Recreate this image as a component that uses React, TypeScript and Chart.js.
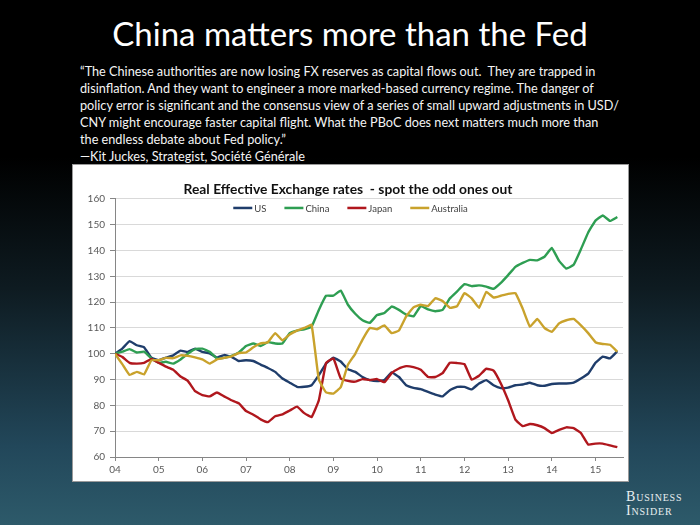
import React, { useEffect, useRef } from 'react';
import { Chart, registerables } from 'chart.js';

Chart.register(...registerables);

// ---------- data (bimonthly samples starting Jan 2004) ----------
const yearLabels = ['04', '05', '06', '07', '08', '09', '10', '11', '12', '13', '14', '15'];
const MONTH_STEP = 2;
const X_MAX = 11.63;

const us = [
  100, 102, 104.9, 103.3, 102.5, 98.5, 97.5, 98.5, 99.4, 101.2,
  100.7, 102, 100.7, 100.2, 98.5, 99.5, 98.8, 97.2, 97.5, 97.2,
  95.8, 94.5, 93, 90.4, 88.8, 87.2, 87.2, 87.8, 91.7, 96.2,
  98.5, 97, 94, 93, 91, 89.8, 89.4, 89.8, 92.8, 91,
  87.8, 86.8, 86.3, 85.2, 84.2, 83.5, 85.9, 87.2, 87.2, 86.2,
  88.5, 89.8, 87.8, 86.7, 86.9, 87.8, 88.1, 88.8, 87.8, 87.6,
  88.3, 88.5, 88.5, 88.8, 90.4, 92.3, 96.5, 98.9, 98.2, 101,
];

const china = [
  100, 100.8, 101.8, 100.5, 100.8, 98.2, 96.5, 96.9, 96.2, 97.8,
  100, 101.8, 102, 100.8, 98.2, 98.4, 99.2, 100.5, 103, 104,
  103, 104.5, 104, 104, 108, 109, 109.5, 110.5, 117, 122.5,
  122.5, 124.5, 119, 115.5, 113, 112, 115, 115.8, 118.3, 117,
  115.2, 114.5, 118.5, 117.2, 116.5, 117, 121.5, 124.2, 127, 126.2,
  126.5, 126, 125.2, 127.5, 130.5, 133.7, 135.2, 136.4, 136.2, 137.6,
  141, 136, 133, 134.5, 140.5, 147, 151.6, 153.6, 151.5, 153,
];

const japan = [
  100, 98.8, 96.5, 96.2, 96.5, 98, 96.5, 95, 93.8, 91.2,
  89.5, 85.5, 84, 83.5, 85, 83.5, 82, 80.8, 77.8, 76.4,
  74.6, 73.5, 75.8, 76.5, 78, 79.5, 77, 75.5, 82, 96.5,
  98.2, 90.5, 89.5, 89.2, 90.2, 89.8, 90.2, 89, 92.5, 94.3,
  95.2, 94.8, 93.8, 91, 91, 92.5, 96.5, 96.4, 96, 90,
  91.5, 94.2, 93.5, 88.5, 82, 74.5, 72, 72.8, 72.3, 71.2,
  69.3, 70.5, 71.5, 71.2, 69.3, 64.8, 65.2, 65.2, 64.5, 63.8,
];

const australia = [
  100, 96, 91.8, 93, 92, 97.5, 97.5, 98.4, 98.3, 99.4,
  99.2, 98.6, 97.8, 96.2, 97.8, 98.4, 99, 100.3, 100.5, 102.5,
  104, 104.5, 108, 105.2, 107.5, 109, 110, 111.2, 90, 85,
  84.6, 87, 95.8, 100, 105.5, 110, 109.5, 111, 108, 109,
  114.5, 118, 119, 118.5, 121.5, 120.5, 117.8, 118.5, 123.5, 121.5,
  117.8, 124, 121.8, 122.5, 123.2, 123.5, 117.5, 110.5, 113.5, 110,
  108.5, 111.8, 113, 113.5, 111, 108, 104.5, 103.8, 103.5, 100.8,
];

const seriesNames = ['US', 'China', 'Japan', 'Australia'];
const seriesValues = [us, china, japan, australia];
const seriesColors = ['#1f3d6b', '#2e9e52', '#b0171d', '#c9a22c'];

const chartTitle = 'Real Effective Exchange rates  - spot the odd ones out';
const pageTitle = 'China matters more than the Fed';
const quoteLines = [
  '\u201CThe Chinese authorities are now losing FX reserves as capital flows out.  They are trapped in',
  'disinflation. And they want to engineer a more marked-based currency regime. The danger of',
  'policy error is significant and the consensus view of a series of small upward adjustments in USD/',
  'CNY might encourage faster capital flight. What the PBoC does next matters much more than',
  'the endless debate about Fed policy.\u201D',
];
const attribution = '\u2014Kit Juckes, Strategist, Soci\u00E9t\u00E9 G\u00E9n\u00E9rale';

const FONT = "Lato, 'Open Sans', sans-serif";

const toPoints = (vals: number[]) =>
  vals.map((v, i) => ({ x: (i * MONTH_STEP) / 12, y: v }));

const inlineLegend = {
  id: 'inlineLegend',
  afterDraw(chart: any) {
    const ctx = chart.ctx as CanvasRenderingContext2D;
    ctx.save();
    ctx.font = `9.5px ${FONT}`;
    const sw = 19;
    const gap = 2;
    const spacing = 18;
    const items = chart.data.datasets.map((d: any) => ({
      label: d.label as string,
      color: d.borderColor as string,
      w: ctx.measureText(d.label).width,
    }));
    const total =
      items.reduce((s: number, it: any) => s + sw + gap + it.w, 0) + spacing * (items.length - 1);
    let x = chart.width / 2 - total / 2;
    const y = chart.chartArea.top + 9;
    ctx.textBaseline = 'middle';
    ctx.textAlign = 'left';
    for (const it of items) {
      ctx.fillStyle = it.color;
      ctx.fillRect(x, y - 1.25, sw, 2.5);
      x += sw + gap;
      ctx.fillStyle = '#404040';
      ctx.fillText(it.label, x, y + 0.5);
      x += it.w + spacing;
    }
    ctx.restore();
  },
};

function ReerChart() {
  const ref = useRef<HTMLCanvasElement | null>(null);
  useEffect(() => {
    if (!ref.current) return;
    Chart.defaults.font.family = FONT;
    const chart = new Chart(ref.current, {
      type: 'line',
      data: {
        datasets: seriesNames.map((name, i) => ({
          label: name,
          data: toPoints(seriesValues[i]),
          borderColor: seriesColors[i],
          backgroundColor: seriesColors[i],
          borderWidth: 2.4,
          pointRadius: 0,
          tension: 0.1,
          fill: false,
          order: seriesNames.length - i,
        })),
      },
      options: {
        responsive: false,
        animation: false,
        events: [],
        layout: { padding: { left: 0, right: 5, top: 0, bottom: 0 } },
        plugins: {
          legend: { display: false },
          tooltip: { enabled: false },
          title: {
            display: true,
            text: chartTitle,
            color: '#111111',
            font: { size: 13.8, weight: 'bold', family: FONT, lineHeight: 1.2 },
            padding: { top: 16.5, bottom: 0.9 },
          },
        },
        scales: {
          x: {
            type: 'linear',
            min: 0,
            max: X_MAX,
            afterBuildTicks: (scale: any) => {
              scale.ticks = yearLabels.map((_, i) => ({ value: i }));
            },
            afterFit: (scale: any) => {
              scale.height = 24;
            },
            ticks: {
              callback: (v: any) => yearLabels[Math.round(Number(v))] ?? '',
              color: '#595959',
              font: { size: 10 },
              padding: 3,
              maxRotation: 0,
              autoSkip: false,
            },
            grid: {
              drawOnChartArea: false,
              tickLength: 4,
              color: '#868686',
              tickColor: '#868686',
            },
            border: { display: true, color: '#868686', width: 1 },
          },
          y: {
            min: 60,
            max: 160,
            afterFit: (scale: any) => {
              scale.width = 42;
            },
            ticks: {
              stepSize: 10,
              color: '#595959',
              font: { size: 10 },
              padding: 5,
            },
            grid: {
              color: '#d9d9d9',
              tickColor: '#868686',
              tickLength: 5,
            },
            border: { display: true, color: '#868686', width: 1 },
          },
        },
      },
      plugins: [inlineLegend],
    } as any);
    return () => chart.destroy();
  }, []);
  return <canvas ref={ref} width={555} height={316} style={{ display: 'block' }} />;
}

export default function App() {
  useEffect(() => {
    document.body.style.margin = '0';
    document.body.style.background = '#000';
  }, []);
  return (
    <div
      style={{
        position: 'relative',
        width: 700,
        height: 525,
        overflow: 'hidden',
        fontFamily: FONT,
        background:
          'linear-gradient(to bottom, #000000 0%, #000000 30%, #0e1b21 55%, #22475a 85%, #2d5a6a 100%)',
      }}
    >
      <div
        style={{
          position: 'absolute',
          left: 0,
          width: 700,
          top: 10,
          textAlign: 'center',
          color: '#ffffff',
          fontSize: 33,
          lineHeight: '46px',
          whiteSpace: 'nowrap',
        }}
      >
        {pageTitle}
      </div>
      <div
        style={{
          position: 'absolute',
          left: 80,
          top: 63,
          color: '#f4f4f4',
          fontSize: 12.7,
          lineHeight: '17px',
          whiteSpace: 'pre',
        }}
      >
        {quoteLines.map((l, i) => (
          <div key={i}>{l}</div>
        ))}
        <div>{attribution}</div>
      </div>
      <div
        style={{
          position: 'absolute',
          left: 72,
          top: 164,
          width: 555,
          height: 316,
          border: '1px solid #9a9a9a',
          background: '#ffffff',
        }}
      >
        <ReerChart />
      </div>
      <div
        style={{
          position: 'absolute',
          left: 626,
          top: 490,
          color: '#e8eef0',
          fontFamily: "'Liberation Serif', 'DejaVu Serif', serif",
          fontVariant: 'small-caps',
          fontSize: 14,
          lineHeight: '14px',
          letterSpacing: 0.8,
        }}
      >
        <div>Business</div>
        <div>Insider</div>
      </div>
    </div>
  );
}
